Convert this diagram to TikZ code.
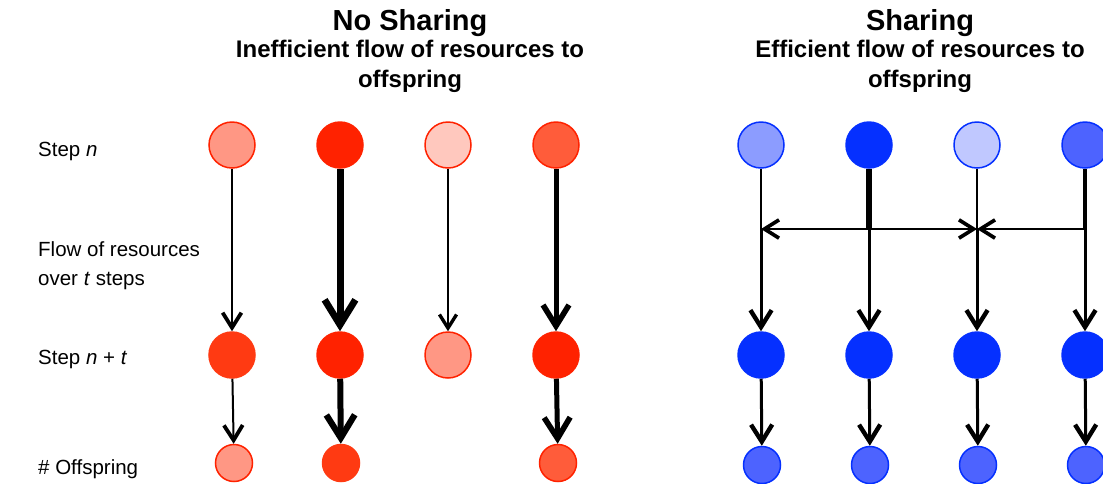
\documentclass[tikz,border=0pt]{standalone}
\usepackage{fontspec}
\setmainfont{Liberation Sans}
\usetikzlibrary{arrows.meta}
\definecolor{rA}{HTML}{FF2200}
\definecolor{rB}{HTML}{FF3A12}
\definecolor{rC}{HTML}{FF5C3A}
\definecolor{rD}{HTML}{FF9784}
\definecolor{rE}{HTML}{FFC8BE}
\definecolor{bA}{HTML}{0530FF}
\definecolor{bC}{HTML}{4D63FF}
\definecolor{bD}{HTML}{8C9CFF}
\definecolor{bE}{HTML}{C0C8FF}
\tikzset{
  big/.style={circle, inner sep=0pt, minimum size=46pt, line width=1.5pt},
  small/.style={circle, inner sep=0pt, minimum size=37pt, line width=1.5pt},
  rs/.style={fill=#1, draw=rA},
  bs/.style={fill=#1, draw=bA},
  flow/.style={line width=#1, -{Straight Barb[length=11pt 2, width=14pt 2.4, line width=2.6pt 0.6]}},
  plain/.style={line width=#1},
  lbl/.style={anchor=west, font=\fontsize{20.5}{29}\selectfont, align=left, inner sep=0pt},
  ttl/.style={font=\bfseries\fontsize{29}{34}\selectfont, inner sep=0pt},
  sub/.style={font=\bfseries\fontsize{24}{30}\selectfont, align=center, inner sep=0pt},
}
\begin{document}
\begin{tikzpicture}[x=1pt,y=-1pt]
\clip (0,0) rectangle (1103,483);
\useasboundingbox (0,0) rectangle (1103,483);
% titles
\node[ttl] (t1) at (410,23) {No Sharing};
\node[sub] (s1) at (410,66) {Inefficient flow of resources to\\offspring};
\node[ttl] (t2) at (920,23) {Sharing};
\node[sub] (s2) at (920,66) {Efficient flow of resources to\\offspring};
% left labels
\node[lbl] (l1) at (38,151) {Step \textit{n}};
\node[lbl] (l2) at (38,266) {Flow of resources\\over \textit{t} steps};
\node[lbl] (l3) at (38,359) {Step \textit{n} + \textit{t}};
\node[lbl] (l4) at (38,469) {\# Offspring};
% red: No Sharing
\node[big, rs=rD] (ra1) at (232,145) {};
\node[big, rs=rA] (ra2) at (340,145) {};
\node[big, rs=rE] (ra3) at (448,145) {};
\node[big, rs=rC] (ra4) at (556,145) {};
\node[big, fill=rB, draw=rB] (rm1) at (232,355) {};
\node[big, fill=rA, draw=rA] (rm2) at (340,355) {};
\node[big, rs=rD] (rm3) at (448,355) {};
\node[big, fill=rA, draw=rA] (rm4) at (556,355) {};
\node[small, rs=rD] (rb1) at (234,463) {};
\node[small, fill=rB, draw=rB] (rb2) at (341,463) {};
\node[small, rs=rC] (rb4) at (558,463) {};
\draw[flow=2pt] (ra1) -- (rm1);
\draw[flow=7pt] (ra2) -- (rm2);
\draw[flow=1.3pt] (ra3) -- (rm3);
\draw[flow=5pt] (ra4) -- (rm4);
\draw[flow=2pt] (rm1) -- (rb1);
\draw[flow=6pt] (rm2) -- (rb2);
\draw[flow=5pt] (rm4) -- (rb4);
% blue: Sharing
\node[big, bs=bD] (ba1) at (761,145) {};
\node[big, bs=bA] (ba2) at (869,145) {};
\node[big, bs=bE] (ba3) at (977,145) {};
\node[big, bs=bC] (ba4) at (1085,145) {};
\node[big, fill=bA, draw=bA] (bm1) at (761,355) {};
\node[big, fill=bA, draw=bA] (bm2) at (869,355) {};
\node[big, fill=bA, draw=bA] (bm3) at (977,355) {};
\node[big, fill=bA, draw=bA] (bm4) at (1085,355) {};
\node[small, bs=bC] (bb1) at (762,465) {};
\node[small, bs=bC] (bb2) at (870,465) {};
\node[small, bs=bC] (bb3) at (978,465) {};
\node[small, bs=bC] (bb4) at (1086,465) {};
\coordinate (j1) at (761,229);
\coordinate (j2) at (869,229);
\coordinate (j3) at (977,229);
\coordinate (j4) at (1085,229);
\draw[plain=2pt] (ba1) -- (j1);
\draw[plain=6pt] (ba2) -- (j2);
\draw[plain=1.3pt] (ba3) -- (j3);
\draw[plain=4.5pt] (ba4) -- (j4);
\draw[flow=1.8pt] (j2) -- (j1);
\draw[flow=1.8pt] (j2) -- (j3);
\draw[flow=1.8pt] (j4) -- (j3);
\draw[flow=3pt] (j1) -- (bm1);
\draw[flow=3pt] (j2) -- (bm2);
\draw[flow=3pt] (j3) -- (bm3);
\draw[flow=3pt] (j4) -- (bm4);
\draw[flow=3pt] (bm1) -- (bb1);
\draw[flow=3pt] (bm2) -- (bb2);
\draw[flow=3pt] (bm3) -- (bb3);
\draw[flow=3pt] (bm4) -- (bb4);
\end{tikzpicture}
\end{document}
